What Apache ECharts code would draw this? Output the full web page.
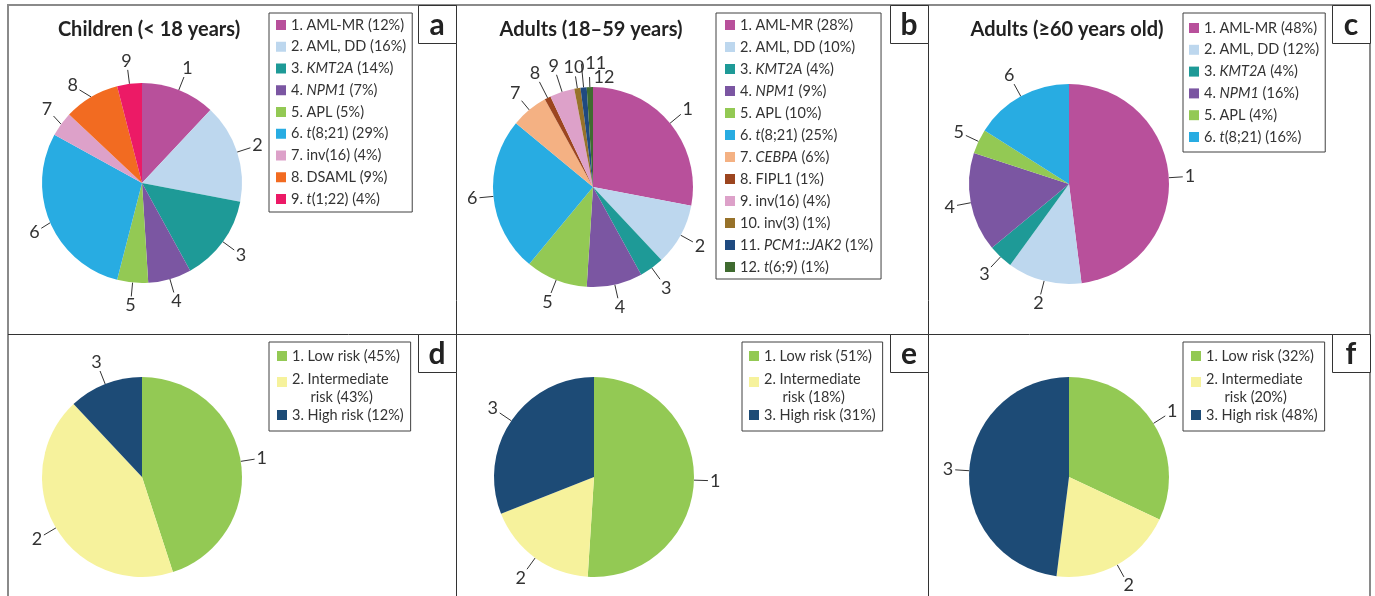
<!DOCTYPE html>
<html>
<head>
<meta charset="utf-8">
<script src="https://cdn.jsdelivr.net/npm/echarts@6/dist/echarts.min.js"></script>
<style>
  html, body { margin: 0; padding: 0; background: #fff; }
  #main { width: 1375px; height: 596px; }
</style>
</head>
<body>
<div id="main"></div>
<script>
// subtype shares (%) per age group
const catChildren = ['AML-MR', 'AML, DD', 'KMT2A', 'NPM1', 'APL', 't(8;21)', 'inv(16)', 'DSAML', 't(1;22)'];
const valChildren = [12, 16, 14, 7, 5, 29, 4, 9, 4];

const catAdults = ['AML-MR', 'AML, DD', 'KMT2A', 'NPM1', 'APL', 't(8;21)', 'CEBPA', 'FIPL1', 'inv(16)', 'inv(3)', 'PCM1::JAK2', 't(6;9)'];
const valAdults = [28, 10, 4, 9, 10, 25, 6, 1, 4, 1, 1, 1];

const catElderly = ['AML-MR', 'AML, DD', 'KMT2A', 'NPM1', 'APL', 't(8;21)'];
const valElderly = [48, 12, 4, 16, 4, 16];

// risk groups
const catRisk = ['Low risk', 'Intermediate risk', 'High risk'];
const riskChildren = [45, 43, 12];
const riskAdults = [51, 18, 31];
const riskElderly = [32, 20, 48];

const titles = ['Children (< 18 years)', 'Adults (18\u201359 years)', 'Adults (\u226560 years old)'];
const letters = ['a', 'b', 'c', 'd', 'e', 'f'];

// colours
const colorOf = {
  'AML-MR': '#b8509b',
  'AML, DD': '#bdd7ee',
  'KMT2A': '#1e9a97',
  'NPM1': '#7b56a2',
  'APL': '#93c954',
  't(8;21)': '#28ace2',
  'inv(16)': '#dda1c9',
  'DSAML': '#f26b21',
  't(1;22)': '#ec1a66',
  'CEBPA': '#f4b183',
  'FIPL1': '#9c451f',
  'inv(3)': '#97722a',
  'PCM1::JAK2': '#1f4a80',
  't(6;9)': '#3f6b30',
  'Low risk': '#93c954',
  'Intermediate risk': '#f6f29c',
  'High risk': '#1d4b76'
};

// leader line lengths for the crowded small slices of panel b
const adultLeaderLen = [14, 14, 14, 14, 14, 14, 12, 18, 18, 12, 24, 10];
const adultFlipRight = [10, 11];

const FONT = 'Lato, "Open Sans", sans-serif';
const TXT = '#333';
const LEG_FS = 14.5;

function names(cats, vals) {
  return cats.map((c, i) => (i + 1) + '. ' + c + ' (' + vals[i] + '%)');
}

// put the number just beyond the end of its leader, along the leader direction
function placeLabel(p, flip) {
  const pts = p.labelLinePoints;
  if (!pts) return {};
  const end = pts[pts.length - 1];
  if (flip && flip.indexOf(p.dataIndex) > -1) {
    return { x: end[0] + 4, align: 'left', labelLinePoints: pts };
  }
  let dx = pts[1][0] - pts[0][0], dy = pts[1][1] - pts[0][1];
  const len = Math.hypot(dx, dy) || 1;
  dx /= len; dy /= len;
  const hw = p.labelRect.width / 2, hh = 7;
  const t = Math.min(Math.abs(dx) > 1e-6 ? hw / Math.abs(dx) : 1e9,
                     Math.abs(dy) > 1e-6 ? hh / Math.abs(dy) : 1e9) + 2;
  return { x: end[0] + dx * t, y: end[1] + dy * t, align: 'center', verticalAlign: 'middle', labelLinePoints: pts };
}

function pie(cats, vals, center, leaderLen, flip) {
  const nm = names(cats, vals);
  return {
    type: 'pie',
    center: center,
    radius: 100,
    startAngle: 90,
    clockwise: true,
    animation: false,
    avoidLabelOverlap: !leaderLen,
    emphasis: { disabled: true },
    itemStyle: { borderWidth: 0 },
    label: {
      show: true,
      position: 'outside',
      formatter: p => String(p.dataIndex + 1),
      color: TXT,
      fontFamily: FONT,
      fontSize: 18,
      distanceToLabelLine: 4
    },
    labelLine: { show: true, length: 14, length2: 0, lineStyle: { color: '#333', width: 1 } },
    labelLayout: p => placeLabel(p, flip),
    data: cats.map((c, i) => {
      const d = { name: nm[i], value: vals[i], itemStyle: { color: colorOf[c] } };
      if (leaderLen) d.labelLine = { length: leaderLen[i], length2: 0 };
      return d;
    })
  };
}

function fmtLegend(name) {
  return name
    .replace(/(KMT2A|NPM1|CEBPA|PCM1::JAK2)/, '{i|$1}')
    .replace(/\. t\(/, '. {i|t}(');
}

function subtypeLegend(cats, vals, left, top, pad, gap) {
  return {
    orient: 'vertical',
    left: left, top: top,
    padding: pad,
    itemWidth: 10, itemHeight: 10, itemGap: gap,
    icon: 'rect',
    borderColor: '#404040', borderWidth: 1,
    selectedMode: false,
    formatter: fmtLegend,
    textStyle: {
      fontFamily: FONT, fontSize: LEG_FS, lineHeight: 16, color: TXT,
      rich: { i: { fontFamily: FONT, fontSize: LEG_FS, lineHeight: 16, color: TXT, fontStyle: 'italic' } }
    },
    data: names(cats, vals)
  };
}

// risk legend: 2nd entry wraps, swatch kept on its first line
function riskLegend(vals, left, padLeft) {
  const nm = names(catRisk, vals);
  return {
    orient: 'vertical',
    left: left, top: 342,
    padding: [5, 7, 0, padLeft],
    itemWidth: 10, itemHeight: 10, itemGap: -7,
    icon: 'rect',
    borderColor: '#404040', borderWidth: 1,
    selectedMode: false,
    formatter: n => n.indexOf('Intermediate') > -1 ? '{p|}\n' + n.replace('Intermediate ', 'Intermediate\n     ') : n,
    textStyle: {
      fontFamily: FONT, fontSize: LEG_FS, lineHeight: 18, color: TXT,
      rich: { p: { fontSize: 1, lineHeight: 12 } }
    },
    data: [
      { name: nm[0] },
      { name: nm[1] },
      { name: nm[2], textStyle: { lineHeight: 32 } }
    ]
  };
}

const colX = [8, 456, 928, 1370];
const rowY = [5, 334];
const graphics = [
  { type: 'rect', shape: { x: 8, y: 5, width: 1362, height: 620 }, style: { fill: 'none', stroke: '#8a8a8a', lineWidth: 2 } },
  { type: 'line', shape: { x1: 456.5, y1: 5, x2: 456.5, y2: 596 }, style: { stroke: '#333', lineWidth: 1 } },
  { type: 'line', shape: { x1: 928.5, y1: 5, x2: 928.5, y2: 596 }, style: { stroke: '#333', lineWidth: 1 } },
  { type: 'line', shape: { x1: 8, y1: 334.5, x2: 1370, y2: 334.5 }, style: { stroke: '#333', lineWidth: 1 } }
];
letters.forEach((l, i) => {
  const right = colX[(i % 3) + 1];
  const top = rowY[Math.floor(i / 3)];
  graphics.push({ type: 'rect', shape: { x: right - 38 + 0.5, y: top + 0.5, width: 38, height: 38 },
    style: { fill: '#fff', stroke: '#333', lineWidth: 1 } });
  graphics.push({ type: 'text', style: { text: l, x: right - 19, y: top + 20, align: 'center', verticalAlign: 'middle',
    font: 'bold 30px Lato, sans-serif', fill: '#222' } });
});

const chart = echarts.init(document.getElementById('main'));
chart.setOption({
  backgroundColor: '#fff',
  animation: false,
  title: titles.map((t, i) => ({
    text: t,
    left: [149, 591, 1067][i],
    top: 19,
    padding: 0,
    textAlign: 'center',
    textStyle: { fontFamily: FONT, fontWeight: 'bold', fontSize: 20, lineHeight: 22, color: '#222' }
  })),
  legend: [
    subtypeLegend(catChildren, valChildren, 269, 13, [4, 6, 5, 7], 5.75),
    subtypeLegend(catAdults, valAdults, 716, 13, [4, 8, 4, 9], 6),
    subtypeLegend(catElderly, valElderly, 1183, 13, [7, 6, 7, 6], 5.8),
    riskLegend(riskChildren, 269, 8),
    riskLegend(riskAdults, 742, 7),
    riskLegend(riskElderly, 1183, 8)
  ],
  graphic: graphics,
  series: [
    pie(catChildren, valChildren, [142, 183]),
    pie(catAdults, valAdults, [593, 187], adultLeaderLen, adultFlipRight),
    pie(catElderly, valElderly, [1069, 184]),
    pie(catRisk, riskChildren, [142, 477]),
    pie(catRisk, riskAdults, [594, 477]),
    pie(catRisk, riskElderly, [1069, 477])
  ]
});
</script>
</body>
</html>
